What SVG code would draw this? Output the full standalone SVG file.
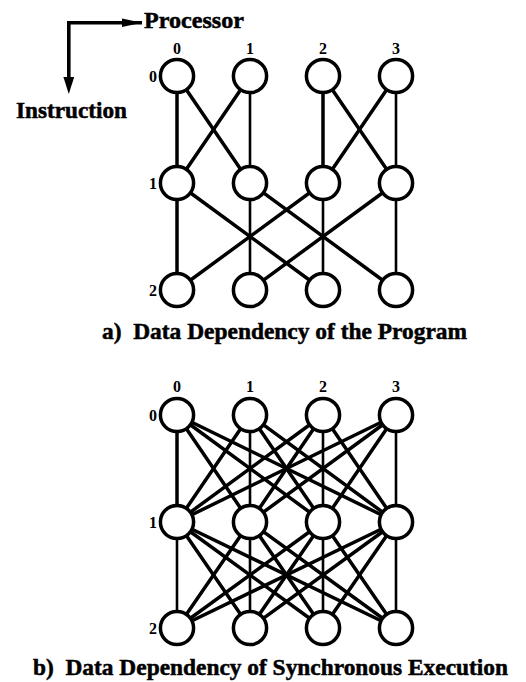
<svg xmlns="http://www.w3.org/2000/svg" width="526" height="682" viewBox="0 0 526 682">
  <style>
    .lbl { font-family: "Liberation Serif", "Times New Roman", serif; font-weight: bold; fill: #000; }
    .big { font-size: 23px; stroke: #000; stroke-width: 0.5; }
    .cap { font-size: 23px; stroke: #000; stroke-width: 0.5; white-space: pre; }
    .idx { font-size: 16px; }
    .edge { stroke: #000; stroke-width: 3.5; fill: none; stroke-linecap: round; }
    .thin { stroke-width: 2.6; }
    .node { fill: #fff; stroke: #000; stroke-width: 3.5; }
  </style>
  <rect width="526" height="682" fill="#fff"/>

  <!-- axes legend -->
  <g id="axes">
    <polyline points="142,22.8 68.8,22.8 68.8,80" fill="none" stroke="#000" stroke-width="3.6"/>
    <polygon points="122,18.6 142,22.8 122,27" fill="#000"/>
    <polygon points="63.4,77 74.2,77 68.8,94" fill="#000"/>
    <text class="lbl big" x="144" y="28" textLength="100" lengthAdjust="spacingAndGlyphs">Processor</text>
    <text class="lbl big" x="16" y="118" textLength="111" lengthAdjust="spacingAndGlyphs">Instruction</text>
  </g>

  <!-- (a) program dependency: connectors -->
  <g id="edges-a" class="edges">
    <line class="edge" x1="177" y1="76" x2="177" y2="183"/>
    <line class="edge" x1="177" y1="76" x2="250" y2="183"/>
    <line class="edge" x1="250" y1="76" x2="177" y2="183"/>
    <line class="edge thin" x1="250" y1="76" x2="250" y2="183"/>
    <line class="edge" x1="323" y1="76" x2="323" y2="183"/>
    <line class="edge" x1="323" y1="76" x2="396" y2="183"/>
    <line class="edge" x1="396" y1="76" x2="323" y2="183"/>
    <line class="edge thin" x1="396" y1="76" x2="396" y2="183"/>

    <line class="edge" x1="177" y1="183" x2="177" y2="290"/>
    <line class="edge" x1="177" y1="183" x2="323" y2="290"/>
    <line class="edge thin" x1="250" y1="183" x2="250" y2="290"/>
    <line class="edge" x1="250" y1="183" x2="396" y2="290"/>
    <line class="edge" x1="323" y1="183" x2="177" y2="290"/>
    <line class="edge thin" x1="323" y1="183" x2="323" y2="290"/>
    <line class="edge" x1="396" y1="183" x2="250" y2="290"/>
    <line class="edge thin" x1="396" y1="183" x2="396" y2="290"/>
  </g>

  <!-- (a) nodes -->
  <g id="a-r0c0"><circle class="node" cx="177" cy="76" r="16.6"/></g>
  <g id="a-r0c1"><circle class="node" cx="250" cy="76" r="16.6"/></g>
  <g id="a-r0c2"><circle class="node" cx="323" cy="76" r="16.6"/></g>
  <g id="a-r0c3"><circle class="node" cx="396" cy="76" r="16.6"/></g>
  <g id="a-r1c0"><circle class="node" cx="177" cy="183" r="16.6"/></g>
  <g id="a-r1c1"><circle class="node" cx="250" cy="183" r="16.6"/></g>
  <g id="a-r1c2"><circle class="node" cx="323" cy="183" r="16.6"/></g>
  <g id="a-r1c3"><circle class="node" cx="396" cy="183" r="16.6"/></g>
  <g id="a-r2c0"><circle class="node" cx="177" cy="290" r="16.6"/></g>
  <g id="a-r2c1"><circle class="node" cx="250" cy="290" r="16.6"/></g>
  <g id="a-r2c2"><circle class="node" cx="323" cy="290" r="16.6"/></g>
  <g id="a-r2c3"><circle class="node" cx="396" cy="290" r="16.6"/></g>

  <!-- (a) indices and caption -->
  <g id="a-labels">
    <text class="lbl idx" x="177" y="54" text-anchor="middle">0</text>
    <text class="lbl idx" x="250" y="54" text-anchor="middle">1</text>
    <text class="lbl idx" x="323" y="54" text-anchor="middle">2</text>
    <text class="lbl idx" x="396" y="54" text-anchor="middle">3</text>
    <text class="lbl idx" x="157" y="81.5" text-anchor="end">0</text>
    <text class="lbl idx" x="157" y="188.5" text-anchor="end">1</text>
    <text class="lbl idx" x="157" y="295.5" text-anchor="end">2</text>
    <text class="lbl cap" x="102" y="339" textLength="365" lengthAdjust="spacingAndGlyphs">a)  Data Dependency of the Program</text>
  </g>

  <!-- (b) synchronous execution: every node linked to every node of the next row -->
  <g id="edges-b" class="edges">
    <line class="edge" x1="177" y1="415" x2="177" y2="522"/>
    <line class="edge" x1="177" y1="415" x2="250" y2="522"/>
    <line class="edge" x1="177" y1="415" x2="323" y2="522"/>
    <line class="edge" x1="177" y1="415" x2="396" y2="522"/>
    <line class="edge" x1="250" y1="415" x2="177" y2="522"/>
    <line class="edge thin" x1="250" y1="415" x2="250" y2="522"/>
    <line class="edge" x1="250" y1="415" x2="323" y2="522"/>
    <line class="edge" x1="250" y1="415" x2="396" y2="522"/>
    <line class="edge" x1="323" y1="415" x2="177" y2="522"/>
    <line class="edge" x1="323" y1="415" x2="250" y2="522"/>
    <line class="edge thin" x1="323" y1="415" x2="323" y2="522"/>
    <line class="edge" x1="323" y1="415" x2="396" y2="522"/>
    <line class="edge" x1="396" y1="415" x2="177" y2="522"/>
    <line class="edge" x1="396" y1="415" x2="250" y2="522"/>
    <line class="edge" x1="396" y1="415" x2="323" y2="522"/>
    <line class="edge thin" x1="396" y1="415" x2="396" y2="522"/>

    <line class="edge thin" x1="177" y1="522" x2="177" y2="628"/>
    <line class="edge" x1="177" y1="522" x2="250" y2="628"/>
    <line class="edge" x1="177" y1="522" x2="323" y2="628"/>
    <line class="edge" x1="177" y1="522" x2="396" y2="628"/>
    <line class="edge" x1="250" y1="522" x2="177" y2="628"/>
    <line class="edge thin" x1="250" y1="522" x2="250" y2="628"/>
    <line class="edge" x1="250" y1="522" x2="323" y2="628"/>
    <line class="edge" x1="250" y1="522" x2="396" y2="628"/>
    <line class="edge" x1="323" y1="522" x2="177" y2="628"/>
    <line class="edge" x1="323" y1="522" x2="250" y2="628"/>
    <line class="edge thin" x1="323" y1="522" x2="323" y2="628"/>
    <line class="edge" x1="323" y1="522" x2="396" y2="628"/>
    <line class="edge" x1="396" y1="522" x2="177" y2="628"/>
    <line class="edge" x1="396" y1="522" x2="250" y2="628"/>
    <line class="edge" x1="396" y1="522" x2="323" y2="628"/>
    <line class="edge thin" x1="396" y1="522" x2="396" y2="628"/>
  </g>

  <!-- (b) nodes -->
  <g id="b-r0c0"><circle class="node" cx="177" cy="415" r="16.6"/></g>
  <g id="b-r0c1"><circle class="node" cx="250" cy="415" r="16.6"/></g>
  <g id="b-r0c2"><circle class="node" cx="323" cy="415" r="16.6"/></g>
  <g id="b-r0c3"><circle class="node" cx="396" cy="415" r="16.6"/></g>
  <g id="b-r1c0"><circle class="node" cx="177" cy="522" r="16.6"/></g>
  <g id="b-r1c1"><circle class="node" cx="250" cy="522" r="16.6"/></g>
  <g id="b-r1c2"><circle class="node" cx="323" cy="522" r="16.6"/></g>
  <g id="b-r1c3"><circle class="node" cx="396" cy="522" r="16.6"/></g>
  <g id="b-r2c0"><circle class="node" cx="177" cy="628" r="16.6"/></g>
  <g id="b-r2c1"><circle class="node" cx="250" cy="628" r="16.6"/></g>
  <g id="b-r2c2"><circle class="node" cx="323" cy="628" r="16.6"/></g>
  <g id="b-r2c3"><circle class="node" cx="396" cy="628" r="16.6"/></g>

  <!-- (b) indices and caption -->
  <g id="b-labels">
    <text class="lbl idx" x="177" y="392" text-anchor="middle">0</text>
    <text class="lbl idx" x="250" y="392" text-anchor="middle">1</text>
    <text class="lbl idx" x="323" y="392" text-anchor="middle">2</text>
    <text class="lbl idx" x="396" y="392" text-anchor="middle">3</text>
    <text class="lbl idx" x="157" y="420.5" text-anchor="end">0</text>
    <text class="lbl idx" x="157" y="527.5" text-anchor="end">1</text>
    <text class="lbl idx" x="157" y="633.5" text-anchor="end">2</text>
    <text class="lbl cap" x="33" y="675" textLength="475" lengthAdjust="spacingAndGlyphs">b)  Data Dependency of Synchronous Execution</text>
  </g>
</svg>
